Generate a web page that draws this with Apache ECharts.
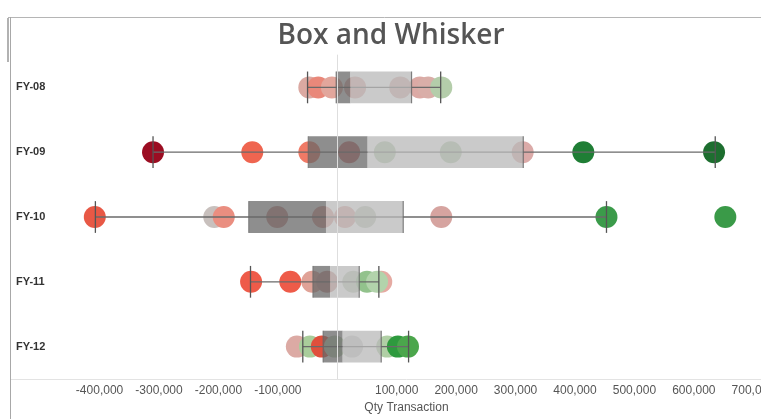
<!DOCTYPE html>
<html>
<head>
<meta charset="utf-8">
<script src="https://cdn.jsdelivr.net/npm/echarts@6/dist/echarts.min.js"></script>
<style>
html,body{margin:0;padding:0;background:#fff;}
#chart{width:761px;height:419px;}
</style>
</head>
<body>
<div id="chart"></div>
<script>
// ---- data ----
const categories = ['FY-08', 'FY-09', 'FY-10', 'FY-11', 'FY-12'];
const lowerWhisker = [-50000, -310000, -407000, -146000, -58000];
const q1 = [-2000, -49000, -149000, -41000, -24000];
const median = [22000, 51000, -19000, -12000, 9000];
const q3 = [125000, 313000, 111000, 37000, 74000];
const upperWhisker = [174000, 636000, 453000, 70000, 120000];

const fy08 = [-47000, -32000, -9000, 30000, 106000, 139000, 153000, 175000];
const fy09 = [-310000, -143000, -47000, 20000, 80000, 191000, 312000, 414000, 634000];
const fy10 = [-408000, -207000, -191000, -101000, -24000, 13000, 47000, 175000, 453000, 653000];
const fy11 = [-145000, -79000, -42000, -17000, 27000, 50000, 74000, 67000];
const fy12 = [-68000, -46000, -26000, -4000, 25000, 84000, 102000, 119000];

const tickValues = [-400000, -300000, -200000, -100000, 100000, 200000, 300000, 400000, 500000, 600000, 700000];

// ---- point colours (style) ----
const colors08 = ['#dba9a2', '#e9887a', '#e2a69c', '#ddaba6', '#d9b0ac', '#dcaaa5', '#d9aea8', '#b4cdaa'];
const colors09 = ['#9b0d22', '#ef6550', '#f07a66', '#d27a78', '#b5ccad', '#b5ccad', '#dbaaa8', '#1f7e35', '#1d6e2f'];
const colors10 = ['#e85845', '#c8c0bd', '#ea8e80', '#c98f8c', '#d99a95', '#e0a7a2', '#c3ccbd', '#d6a4a0', '#3b9b4a', '#3a9a48'];
const colors11 = ['#ee5b49', '#ee5b49', '#e0a297', '#c9958f', '#c2d0bd', '#92c28c', '#e5aaa2', '#b2d3ab'];
const colors12 = ['#dcaaa4', '#a9cd9b', '#e04f3c', '#b9cdb0', '#cfcfcf', '#b0cfa5', '#2e9a3e', '#4ba64c'];

const pointSets = [fy08, fy09, fy10, fy11, fy12];
const colorSets = [colors08, colors09, colors10, colors11, colors12];

const scatterData = [];
pointSets.forEach((arr, i) => {
  arr.forEach((v, j) => {
    scatterData.push({ value: [v, i], itemStyle: { color: colorSets[i][j], opacity: 1 } });
  });
});

const boxData = categories.map((c, i) => [i, lowerWhisker[i], q1[i], median[i], q3[i], upperWhisker[i]]);

const chart = echarts.init(document.getElementById('chart'), null, { renderer: 'canvas' });

function renderBox(params, api) {
  const cat = api.value(0);
  const lo = api.coord([api.value(1), cat]);
  const a = api.coord([api.value(2), cat]);
  const m = api.coord([api.value(3), cat]);
  const b = api.coord([api.value(4), cat]);
  const hi = api.coord([api.value(5), cat]);
  const bh = api.size([0, 1])[1] * 0.49;
  const y = lo[1];
  const top = y - bh / 2;
  return {
    type: 'group',
    children: [
      { type: 'line', shape: { x1: lo[0], y1: y, x2: hi[0], y2: y }, style: { stroke: '#6a6a6a', lineWidth: 1.3 } },
      { type: 'line', shape: { x1: lo[0], y1: top, x2: lo[0], y2: top + bh }, style: { stroke: '#555', lineWidth: 1.3 } },
      { type: 'line', shape: { x1: hi[0], y1: top, x2: hi[0], y2: top + bh }, style: { stroke: '#555', lineWidth: 1.3 } },
      { type: 'rect', shape: { x: a[0], y: top, width: m[0] - a[0], height: bh }, style: { fill: 'rgba(104,104,104,0.75)' } },
      { type: 'rect', shape: { x: m[0], y: top, width: b[0] - m[0], height: bh }, style: { fill: 'rgba(184,184,184,0.75)' } },
      { type: 'line', shape: { x1: a[0], y1: top, x2: a[0], y2: top + bh }, style: { stroke: 'rgba(100,100,100,0.7)', lineWidth: 1 } },
      { type: 'line', shape: { x1: b[0], y1: top, x2: b[0], y2: top + bh }, style: { stroke: 'rgba(100,100,100,0.8)', lineWidth: 1.2 } }
    ]
  };
}

const option = {
  animation: false,
  backgroundColor: '#fff',
  grid: { left: 52, right: 0, top: 55, bottom: 40, containLabel: false, outerBoundsMode: 'none' },
  xAxis: {
    type: 'value',
    min: -480000,
    max: 713000,
    axisLine: { show: true, lineStyle: { color: '#e3e3e3' } },
    axisTick: { show: false },
    splitLine: { show: false },
    axisLabel: {
      customValues: tickValues,
      formatter: v => Number(v).toLocaleString('en-US'),
      color: '#555',
      fontSize: 12,
      fontFamily: 'Liberation Sans',
      margin: 6,
      hideOverlap: false
    },
    name: 'Qty Transaction',
    nameLocation: 'middle',
    nameGap: 23,
    nameTextStyle: { color: '#555', fontSize: 12, fontFamily: 'Liberation Sans' }
  },
  yAxis: {
    type: 'category',
    data: categories,
    inverse: true,
    axisLine: { show: true, lineStyle: { color: '#e3e3e3' } },
    axisTick: { show: false },
    splitLine: { show: false },
    axisLabel: {
      align: 'left',
      margin: 36,
      fontWeight: 'bold',
      color: '#333',
      fontSize: 11,
      fontFamily: 'Liberation Sans'
    }
  },
  series: [
    {
      type: 'scatter',
      z: 1,
      symbolSize: 22,
      itemStyle: { opacity: 1 },
      data: scatterData,
      markLine: {
        silent: true,
        symbol: ['none', 'none'],
        label: { show: false },
        lineStyle: { color: '#dedede', type: 'solid', width: 1 },
        data: [{ xAxis: 0 }]
      }
    },
    {
      type: 'custom',
      z: 3,
      renderItem: renderBox,
      encode: { x: [1, 2, 3, 4, 5], y: 0 },
      data: boxData
    }
  ],
  graphic: [
    { type: 'line', z: 10, shape: { x1: 8, y1: 17.5, x2: 761, y2: 17.5 }, style: { stroke: '#b5b5b5', lineWidth: 1 } },
    { type: 'line', z: 10, shape: { x1: 10.5, y1: 17, x2: 10.5, y2: 419 }, style: { stroke: '#a8a8a8', lineWidth: 1 } },
    { type: 'line', z: 10, shape: { x1: 8, y1: 18, x2: 8, y2: 62 }, style: { stroke: '#999', lineWidth: 1.5 } },
    { type: 'line', z: 0, shape: { x1: 10, y1: 379.5, x2: 52, y2: 379.5 }, style: { stroke: '#e3e3e3', lineWidth: 1 } },
    {
      type: 'text', z: 10, x: 391, y: 36,
      style: {
        text: 'Box and Whisker',
        fill: '#555',
        font: '600 28px "Open Sans"',
        textAlign: 'center',
        textVerticalAlign: 'middle'
      }
    }
  ]
};
chart.setOption(option);
</script>
</body>
</html>
